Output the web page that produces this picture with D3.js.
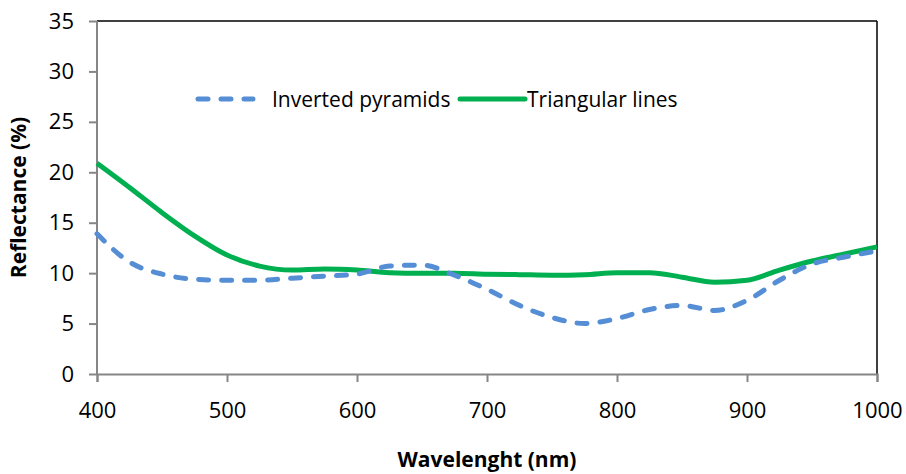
<!DOCTYPE html>
<html lang="en">
<head>
<meta charset="UTF-8">
<script src="https://d3js.org/d3.v7.min.js"></script>
<style>
  body { margin: 0; background: #fff; }
  text { font-family: 'Open Sans', 'Noto Sans', sans-serif; fill: #000; }
</style>
</head>
<body>
<div id="chart"></div>
<script>
// data
var wavelengths = [400, 425, 450, 475, 500, 525, 550, 575, 600, 625, 650, 675, 700,
                   725, 750, 775, 800, 825, 850, 875, 900, 925, 950, 975, 1000];
var invertedPyramids = [13.9, 11.1, 9.9, 9.4, 9.3, 9.3, 9.5, 9.7, 9.9, 10.7, 10.8, 9.8, 8.4,
                        6.8, 5.6, 5.0, 5.5, 6.4, 6.8, 6.3, 7.3, 9.3, 10.9, 11.6, 12.2];
var triangularLines = [20.9, 18.5, 16.0, 13.7, 11.8, 10.7, 10.3, 10.4, 10.3, 10.05, 10.0, 10.0, 9.9,
                       9.85, 9.8, 9.85, 10.05, 10.05, 9.6, 9.1, 9.3, 10.3, 11.2, 11.9, 12.6];
var xTicks = [400, 500, 600, 700, 800, 900, 1000];
var yTicks = [0, 5, 10, 15, 20, 25, 30, 35];

var svg = d3.select("#chart")
  .append("svg")
  .attr("width", 906)
  .attr("height", 474);

var mLeft = 97, mTop = 21, w = 780, h = 353;

var x = d3.scaleLinear().domain([400, 1000]).range([mLeft, mLeft + w]);
var y = d3.scaleLinear().domain([0, 35]).range([mTop + h, mTop]);

// frame: top and right in black
svg.append("line")
  .attr("x1", mLeft).attr("x2", mLeft + w)
  .attr("y1", mTop).attr("y2", mTop)
  .attr("stroke", "#000").attr("stroke-width", 1.5);
svg.append("line")
  .attr("x1", mLeft + w).attr("x2", mLeft + w)
  .attr("y1", mTop).attr("y2", mTop + h)
  .attr("stroke", "#000").attr("stroke-width", 1.5);

var yAxis = svg.append("g")
  .attr("transform", `translate(${mLeft},0)`)
  .call(d3.axisLeft(y).tickValues(yTicks).tickSize(8).tickPadding(15).tickFormat(d3.format("d")));
var xAxis = svg.append("g")
  .attr("transform", `translate(0,${mTop + h})`)
  .call(d3.axisBottom(x).tickValues(xTicks).tickSize(8).tickPadding(20).tickFormat(d3.format("d")));

[xAxis, yAxis].forEach(function(a) {
  a.selectAll("path, line").attr("stroke", "#868686").attr("stroke-width", 2);
  a.selectAll("text").style("font-size", "22px").attr("fill", "#000");
});
yAxis.select(".domain").attr("d", `M0,${mTop + h}V${mTop}`);

var pts = function(vals) { return wavelengths.map(function(d, i) { return [d, vals[i]]; }); };
var line = d3.line()
  .x(function(d) { return x(d[0]); })
  .y(function(d) { return y(d[1]); })
  .curve(d3.curveMonotoneX);

svg.append("path")
  .datum(pts(triangularLines))
  .attr("d", line)
  .attr("fill", "none")
  .attr("stroke", "#00B050")
  .attr("stroke-width", 5);

svg.append("path")
  .datum(pts(invertedPyramids))
  .attr("d", line)
  .attr("fill", "none")
  .attr("stroke", "#558ED5")
  .attr("stroke-width", 5)
  .attr("stroke-linecap", "round")
  .attr("stroke-dasharray", "10,13");

// legend
var lg = svg.append("g");
lg.append("line")
  .attr("x1", 198).attr("x2", 253).attr("y1", 99).attr("y2", 99)
  .attr("stroke", "#558ED5").attr("stroke-width", 5)
  .attr("stroke-linecap", "round").attr("stroke-dasharray", "10,13");
lg.append("text").attr("x", 272).attr("y", 107).style("font-size", "21px").text("Inverted pyramids");
lg.append("line")
  .attr("x1", 460).attr("x2", 525).attr("y1", 99).attr("y2", 99)
  .attr("stroke", "#00B050").attr("stroke-width", 5).attr("stroke-linecap", "round");
lg.append("text").attr("x", 527).attr("y", 107).style("font-size", "21px").text("Triangular lines");

// axis titles
svg.append("text")
  .attr("x", 487).attr("y", 467)
  .attr("text-anchor", "middle")
  .style("font-size", "21px").style("font-weight", "bold")
  .text("Wavelenght (nm)");
svg.append("text")
  .attr("transform", "translate(26," + (mTop + h / 2) + ") rotate(-90)")
  .attr("text-anchor", "middle")
  .style("font-size", "21px").style("font-weight", "bold")
  .text("Reflectance (%)");
</script>
</body>
</html>
